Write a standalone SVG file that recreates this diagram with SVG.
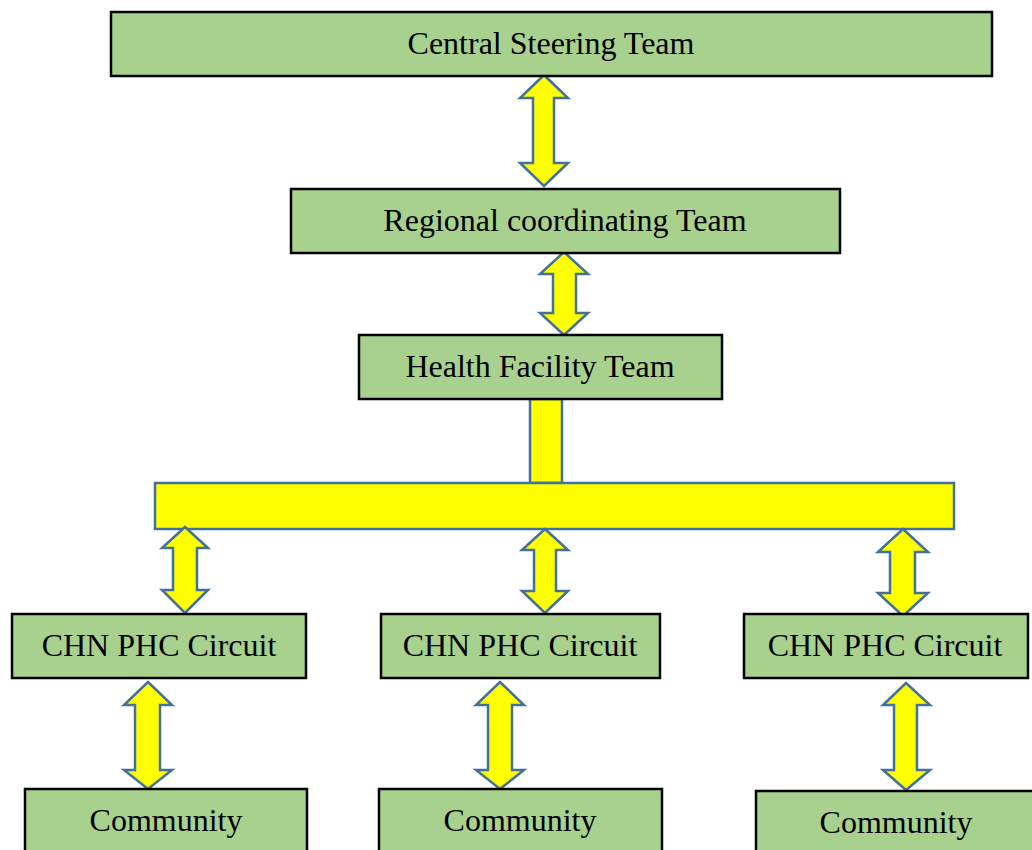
<svg xmlns="http://www.w3.org/2000/svg" width="1032" height="850" viewBox="0 0 1032 850">
<style>
.box{fill:#A9D18E;stroke:#000;stroke-width:2.5}
.lbl{font-family:"Liberation Serif","Times New Roman",serif;font-size:32px;fill:#000;text-anchor:middle}
.arw{fill:#FFFF00;stroke:#41719C;stroke-width:2.5;stroke-linejoin:miter}
</style>
<rect width="1032" height="850" fill="#fff"/>
<g id="connectors">
<path class="arw" d="M544,75 L568,98 L554,98 L554,163 L568,163 L544,186 L520,163 L533,163 L533,98 L520,98 Z"/>
<path class="arw" d="M564,252 L588,274 L576,274 L576,313 L588,313 L564,335 L540,313 L553,313 L553,274 L540,274 Z"/>
<rect class="arw" x="530" y="399" width="32" height="84"/>
<rect class="arw" x="155" y="483" width="799" height="46"/>
<path class="arw" d="M185,527 L208,548 L197,548 L197,590 L208,590 L185,613 L162,590 L173,590 L173,548 L162,548 Z"/>
<path class="arw" d="M545,529 L568,550 L556,550 L556,591 L568,591 L545,613 L522,591 L534,591 L534,550 L522,550 Z"/>
<path class="arw" d="M903,529 L928,552 L915,552 L915,593 L928,593 L903,616 L878,593 L890,593 L890,552 L878,552 Z"/>
<path class="arw" d="M148,682 L172,705 L160,705 L160,770 L172,770 L148,789 L124,770 L135,770 L135,705 L124,705 Z"/>
<path class="arw" d="M500,682 L524,705 L512,705 L512,770 L524,770 L500,789 L476,770 L488,770 L488,705 L476,705 Z"/>
<path class="arw" d="M906,683 L930,705 L917,705 L917,770 L930,770 L906,790 L883,770 L894,770 L894,705 L883,705 Z"/>
</g>
<g id="central"><rect class="box" x="111" y="12" width="881" height="64"/><text class="lbl" x="551" y="54">Central Steering Team</text></g>
<g id="regional"><rect class="box" x="291" y="189" width="549" height="64"/><text class="lbl" x="565" y="231">Regional coordinating Team</text></g>
<g id="health"><rect class="box" x="359" y="335" width="363" height="64"/><text class="lbl" x="540" y="377">Health Facility Team</text></g>
<g id="chn1"><rect class="box" x="12" y="614" width="294" height="64"/><text class="lbl" x="159" y="656">CHN PHC Circuit</text></g>
<g id="chn2"><rect class="box" x="381" y="614" width="279" height="64"/><text class="lbl" x="520" y="656">CHN PHC Circuit</text></g>
<g id="chn3"><rect class="box" x="744" y="614" width="284" height="64"/><text class="lbl" x="885" y="656">CHN PHC Circuit</text></g>
<g id="community1"><rect class="box" x="25" y="789" width="282" height="70"/><text class="lbl" x="166" y="831">Community</text></g>
<g id="community2"><rect class="box" x="379" y="789" width="283" height="70"/><text class="lbl" x="520" y="831">Community</text></g>
<g id="community3"><rect class="box" x="756" y="791" width="290" height="70"/><text class="lbl" x="896" y="833">Community</text></g>
</svg>
